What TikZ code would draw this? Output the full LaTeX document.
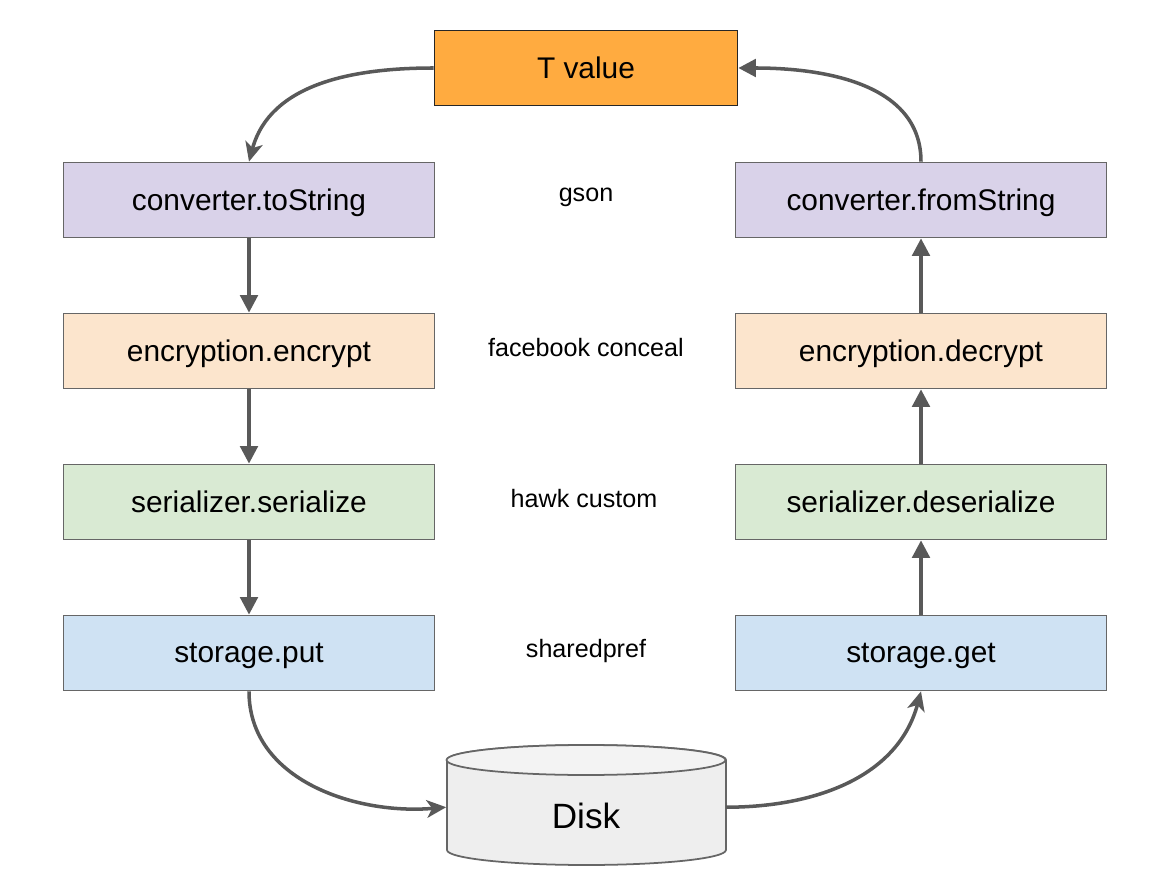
\documentclass[tikz,border=0pt]{standalone}
\usepackage{fontspec}
\setmainfont{Liberation Sans}
\usepackage{xcolor}
\usetikzlibrary{arrows.meta,positioning,calc}
\definecolor{tvalfill}{HTML}{FFAB40}
\definecolor{convfill}{HTML}{D9D2E9}
\definecolor{encfill}{HTML}{FCE5CD}
\definecolor{serfill}{HTML}{D9EAD3}
\definecolor{storfill}{HTML}{CFE2F3}
\definecolor{diskfill}{HTML}{EEEEEE}
\definecolor{disktop}{HTML}{F3F3F3}
\definecolor{boxline}{HTML}{666666}
\definecolor{arrowgray}{HTML}{595959}

\begin{document}
\begin{tikzpicture}[
    x=0.02cm, y=-0.02cm,
    box/.style={draw=boxline, line width=1pt, minimum width=7.42cm, minimum height=1.5cm, align=center, text depth=0pt, font=\fontsize{17}{20}\selectfont},
    lbl/.style={font=\fontsize{14.3}{17}\selectfont},
    arr/.style={-{Triangle[length=10pt,width=10pt]}, line width=2pt, draw=arrowgray},
    carr/.style={-{Stealth[length=11pt,width=10pt,inset=3pt]}, line width=2pt, draw=arrowgray}
  ]
    \useasboundingbox (0,0) rectangle (1157,895);
    \node[box, fill=tvalfill, draw=black!85, minimum width=6.06cm] (tval) at (586, 68) {T value};
    \node[box, fill=convfill] (tostr)   at (249, 200) {converter.toString};
    \node[box, fill=convfill] (fromstr) at (921, 200) {converter.fromString};
    \node[box, fill=encfill]  (encr)    at (249, 351) {encryption.encrypt};
    \node[box, fill=encfill]  (decr)    at (921, 351) {encryption.decrypt};
    \node[box, fill=serfill]  (ser)     at (249, 502) {serializer.serialize};
    \node[box, fill=serfill]  (deser)   at (921, 502) {serializer.deserialize};
    \node[box, fill=storfill] (put)     at (249, 653) {storage.put};
    \node[box, fill=storfill] (get)     at (921, 653) {storage.get};
    % middle labels
    \node[lbl] (gson)    at (586, 197) {gson};
    \node[lbl] (conceal) at (586, 348) {facebook conceal};
    \node[lbl] (hawk)    at (584, 499) {hawk custom};
    \node[lbl] (pref)    at (586, 651) {sharedpref};
    % disk
    \filldraw[fill=diskfill, draw=boxline, line width=1pt] (447,760) -- (447,850)
      arc[start angle=180, end angle=360, x radius=2.79cm, y radius=0.3cm] -- (726,760)
      arc[start angle=0, end angle=180, x radius=2.79cm, y radius=0.3cm] -- cycle;
    \filldraw[fill=disktop, draw=boxline, line width=1pt] (586,760) ellipse[x radius=2.79cm, y radius=0.3cm];
    \node[minimum width=5.58cm, minimum height=1.2cm, inner sep=0pt, font=\fontsize{20}{24}\selectfont] (disk) at (586, 816) {Disk};
    \foreach \i/\j in {tostr/encr, encr/ser, ser/put, get/deser, deser/decr, decr/fromstr}
      \draw[arr] (\i) -- (\j);
    \draw[carr] (tval.west) to[out=180, in=75] (tostr.north);
    \draw[arr] (fromstr.north) to[out=90, in=0] (tval.east);
    \draw[carr] (put.south) to[out=-90, in=185] ([yshift=5pt]disk.west);
    \draw[carr] ([yshift=5pt]disk.east) to[out=0, in=-105] (get.south);
  \end{tikzpicture}
\end{document}
